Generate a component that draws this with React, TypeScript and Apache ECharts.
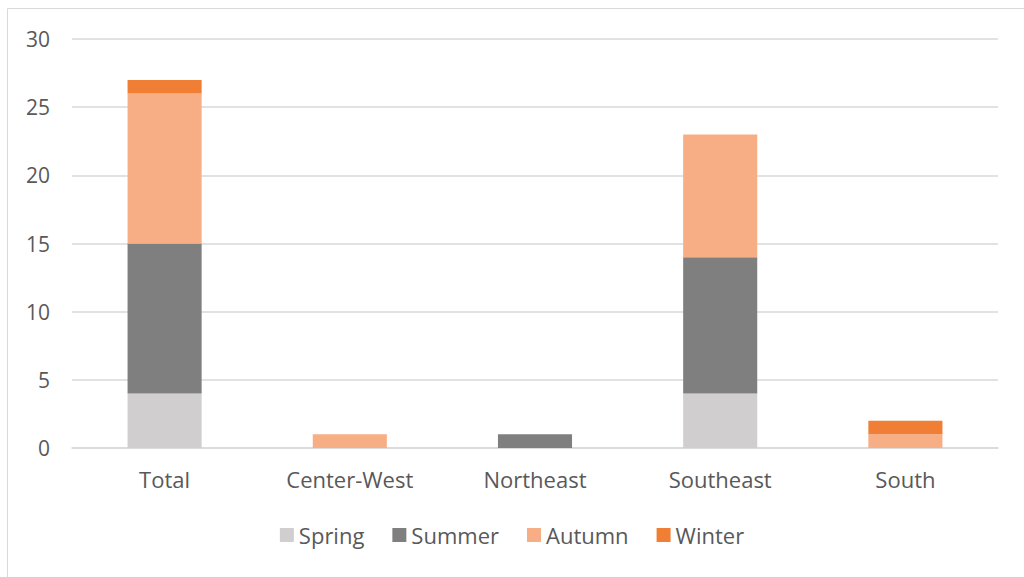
import React, { useEffect, useRef } from "react";
import * as echarts from "echarts";

const categories = ["Total", "Center-West", "Northeast", "Southeast", "South"];
const spring = [4, 0, 0, 4, 0];
const summer = [11, 0, 1, 10, 0];
const autumn = [11, 1, 0, 9, 1];
const winter = [1, 0, 0, 0, 1];

const seriesNames = ["Spring", "Summer", "Autumn", "Winter"];
const seriesColors = ["#D0CECE", "#7F7F7F", "#F8AE84", "#F07E34"];

export default function App() {
  const ref = useRef<HTMLDivElement>(null);
  useEffect(() => {
    if (!ref.current) return;
    const chart = echarts.init(ref.current, undefined, { renderer: "svg" });
    const values = [spring, summer, autumn, winter];
    const font = "'Open Sans', 'Liberation Sans', sans-serif";
    chart.setOption({
      animation: false,
      backgroundColor: "#ffffff",
      textStyle: { fontFamily: font },
      graphic: [
        {
          type: "rect",
          shape: { x: 7.5, y: 8.5, width: 1040, height: 600 },
          style: { fill: "none", stroke: "#D9D9D9", lineWidth: 1 },
          silent: true,
        },
      ],
      grid: { left: 72, right: 26, top: 39, bottom: 129 },
      legend: {
        bottom: 26,
        left: "center",
        itemWidth: 14,
        itemHeight: 14,
        itemGap: 28,
        icon: "rect",
        textStyle: { color: "#595959", fontSize: 22, fontFamily: font },
        data: seriesNames,
      },
      xAxis: {
        type: "category",
        data: categories,
        axisLine: { lineStyle: { color: "#D9D9D9", width: 1.5 } },
        axisTick: { show: false },
        axisLabel: { color: "#595959", fontSize: 22, margin: 20, fontFamily: font },
      },
      yAxis: {
        type: "value",
        min: 0,
        max: 30,
        interval: 5,
        axisLine: { show: false },
        axisTick: { show: false },
        splitLine: { lineStyle: { color: "#D9D9D9", width: 1.5 } },
        axisLabel: { color: "#595959", fontSize: 21, margin: 22, fontFamily: font },
      },
      series: seriesNames.map((name, i) => ({
        name,
        type: "bar",
        stack: "total",
        barWidth: "40%",
        itemStyle: { color: seriesColors[i] },
        data: values[i].map((v) => (v === 0 ? null : v)),
      })),
    });
    return () => chart.dispose();
  }, []);
  return (
    <div
      ref={ref}
      style={{ position: "fixed", left: 0, top: 0, width: 1024, height: 577 }}
    />
  );
}
